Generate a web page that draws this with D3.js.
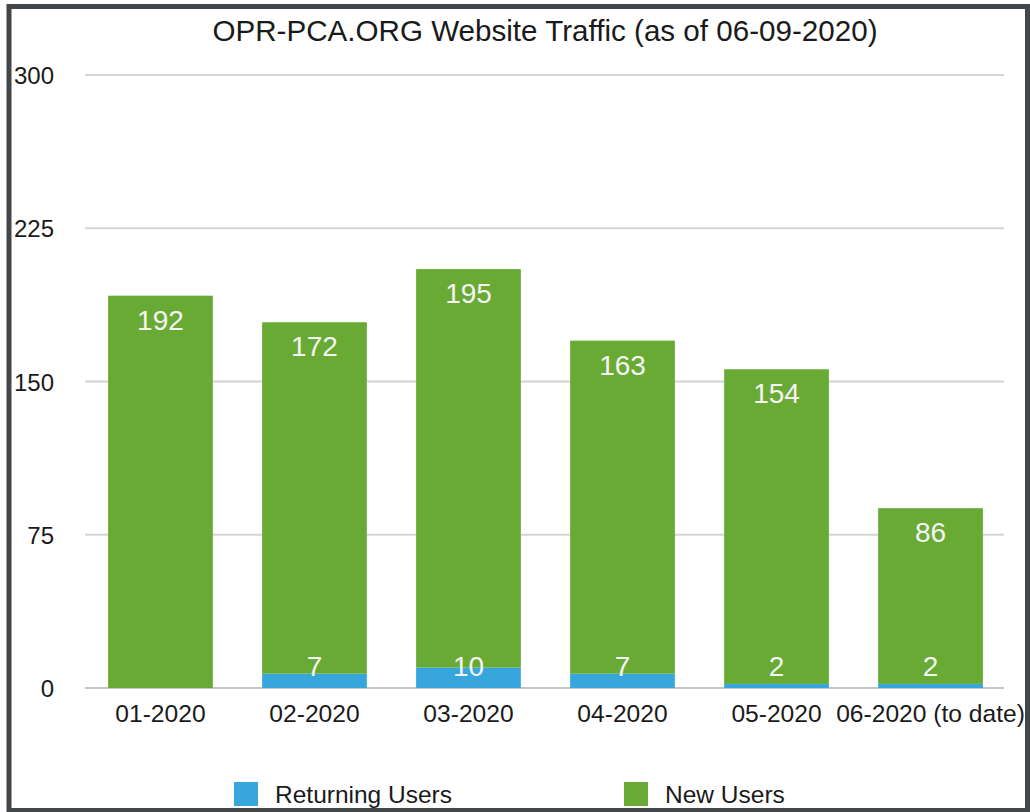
<!DOCTYPE html>
<html>
<head>
<meta charset="utf-8">
<script src="https://cdn.jsdelivr.net/npm/d3@7"></script>
<style>
body { margin: 0; background: #fff; }
text { font-family: 'Liberation Sans', Arial, Helvetica, sans-serif; }
</style>
</head>
<body>
<script>
const width = 1030
const height = 812

// chart data
const months = ['01-2020', '02-2020', '03-2020', '04-2020', '05-2020', '06-2020 (to date)']
const returningUsers = [0, 7, 10, 7, 2, 2]
const newUsers = [192, 172, 195, 163, 154, 86]
const yTicks = [0, 75, 150, 225, 300]
const seriesNames = ['Returning Users', 'New Users']
const seriesColors = ['#37a6dd', '#69aa35']

let rows = months.map((m, i) => ({month: m, returning: returningUsers[i], newUsers: newUsers[i]}))
let stacked = d3.stack().keys(['returning', 'newUsers'])(rows)

let svg = d3.select('body').append('svg')
    .attr('width', width)
    .attr('height', height)

let x = d3.scaleBand()
    .domain(months)
    .range([85, 1006])
    .paddingInner(0.32)
    .paddingOuter(0.15)

let y = d3.scaleLinear()
    .domain([0, 300])
    .range([688, 75])

// Title
svg.append('text')
    .attr('x', 545)
    .attr('y', 41)
    .attr('text-anchor', 'middle')
    .style('font-size', '29.6px')
    .style('fill', '#1a1a1a')
    .text('OPR-PCA.ORG Website Traffic (as of 06-09-2020)')

// Gridlines
svg.append('g')
    .selectAll('line')
    .data(yTicks)
    .join('line')
    .attr('x1', 85)
    .attr('x2', 1004)
    .attr('y1', d => y(d))
    .attr('y2', d => y(d))
    .style('stroke', d => d === 0 ? '#c4c4c4' : '#d4d4d4')
    .style('stroke-width', 2)

// Y tick labels
svg.append('g')
    .selectAll('text')
    .data(yTicks)
    .join('text')
    .attr('x', 54)
    .attr('y', d => y(d) + 9)
    .attr('text-anchor', 'end')
    .style('font-size', '24px')
    .style('fill', '#1a1a1a')
    .text(d => d)

// Bars
svg.append('g')
    .selectAll('g')
    .data(stacked)
    .join('g')
    .style('fill', (d, i) => seriesColors[i])
    .selectAll('rect')
    .data(d => d)
    .join('rect')
    .attr('x', d => x(d.data.month))
    .attr('width', x.bandwidth())
    .attr('y', d => y(d[1]))
    .attr('height', d => y(d[0]) - y(d[1]))

// New users labels (near top of bar)
svg.append('g')
    .selectAll('text')
    .data(rows)
    .join('text')
    .attr('x', d => x(d.month) + x.bandwidth() / 2)
    .attr('y', d => y(d.returning + d.newUsers) + 34)
    .attr('text-anchor', 'middle')
    .style('font-size', '28px')
    .style('fill', '#f4f4f4')
    .text(d => d.newUsers)

// Returning users labels (near base)
svg.append('g')
    .selectAll('text')
    .data(rows.filter(d => d.returning > 0))
    .join('text')
    .attr('x', d => x(d.month) + x.bandwidth() / 2)
    .attr('y', y(0) - 12)
    .attr('text-anchor', 'middle')
    .style('font-size', '28px')
    .style('fill', '#f4f4f4')
    .text(d => d.returning)

// X labels
svg.append('g')
    .selectAll('text')
    .data(months)
    .join('text')
    .attr('x', d => x(d) + x.bandwidth() / 2)
    .attr('y', 722)
    .attr('text-anchor', 'middle')
    .style('font-size', '24.6px')
    .style('fill', '#1a1a1a')
    .text(d => d)

// Legend
let legendX = [234, 624]
let legend = svg.append('g')
    .selectAll('g')
    .data(seriesNames)
    .join('g')
    .attr('transform', (d, i) => `translate(${legendX[i]},782)`)

legend.append('rect')
    .attr('width', 24)
    .attr('height', 24)
    .style('fill', (d, i) => seriesColors[i])

legend.append('text')
    .attr('x', 41)
    .attr('y', 21)
    .style('font-size', '24.5px')
    .style('fill', '#1a1a1a')
    .text(d => d)

// Frame
svg.append('rect')
    .attr('x', 9)
    .attr('y', 6.5)
    .attr('width', 1018.5)
    .attr('height', 804)
    .style('fill', 'none')
    .style('stroke', '#43474a')
    .style('stroke-width', 5)
</script>
</body>
</html>
